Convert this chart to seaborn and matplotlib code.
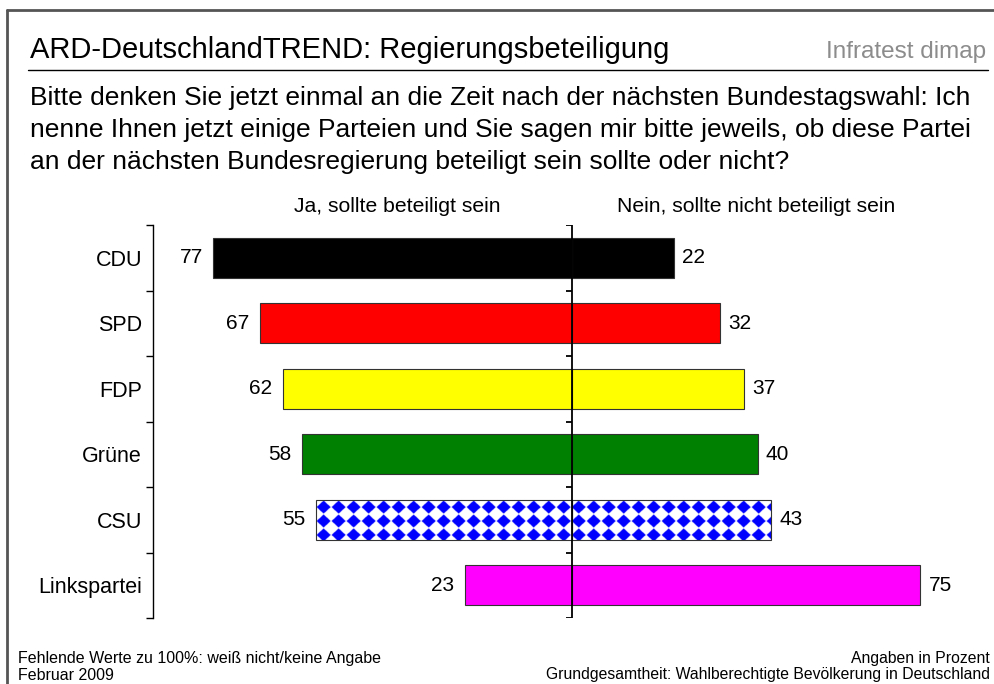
import numpy as np
import pandas as pd
import seaborn as sns
import matplotlib.pyplot as plt
from matplotlib.lines import Line2D

#  Daten 
parteien = ["CDU", "SPD", "FDP", "Grüne", "CSU", "Linkspartei"]
ja = [77, 67, 62, 58, 55, 23]
nein = [22, 32, 37, 40, 43, 75]
farben = ["#000000", "#FF0000", "#FFFF00", "#008000", "#FFFFFF", "#FF00FF"]

titel = "ARD-DeutschlandTREND: Regierungsbeteiligung"
frage = [
    "Bitte denken Sie jetzt einmal an die Zeit nach der nächsten Bundestagswahl: Ich",
    "nenne Ihnen jetzt einige Parteien und Sie sagen mir bitte jeweils, ob diese Partei",
    "an der nächsten Bundesregierung beteiligt sein sollte oder nicht?",
]
kopf_ja = "Ja, sollte beteiligt sein"
kopf_nein = "Nein, sollte nicht beteiligt sein"

sns.set_theme(style="white")
plt.rcParams["font.family"] = ["Liberation Sans", "DejaVu Sans"]
plt.rcParams["text.color"] = "black"
plt.rcParams["ytick.color"] = "black"
plt.rcParams["axes.labelcolor"] = "black"

df = pd.DataFrame({"partei": parteien, "ja": ja, "nein": nein})
df["ja_neg"] = -df["ja"]

W, H = 994, 684
def fx(x):
    return x / W
def fy(y):
    return 1 - y / H

fig = plt.figure(figsize=(W / 100, H / 100), dpi=100)
ax = fig.add_axes([fx(153), fy(618), 837 / W, 393 / H])

for spalte in ["ja_neg", "nein"]:
    sns.barplot(data=df, x=spalte, y="partei", hue="partei", palette=farben,
                orient="h", width=0.61, saturation=1, edgecolor="#333333",
                linewidth=0.8, legend=False, ax=ax)

# CSU: weiss-blaues Rautenmuster
csu = parteien.index("CSU")
csu_bars = [p for p in ax.patches if abs(p.get_y() + p.get_height() / 2 - csu) < 0.01]
x_min = min(min(p.get_x(), p.get_x() + p.get_width()) for p in csu_bars)
x_max = max(max(p.get_x(), p.get_x() + p.get_width()) for p in csu_bars)
y_top = csu_bars[0].get_y()
y_bot = y_top + csu_bars[0].get_height()
per_x, per_y = 15 / 4.65, 14 / 65.5
xs = np.linspace(x_min, x_max, 1800)
ys = np.linspace(y_top, y_bot, 160)
XX, YY = np.meshgrid(xs, ys)
u = ((XX - x_min) / per_x) % 1 - 0.5
v = ((YY - y_top) / per_y) % 1 - 0.5
maske = (np.abs(u) + np.abs(v)) < 0.47
bild = np.ones(maske.shape + (3,))
bild[maske] = [0, 0, 1]
for p in csu_bars:
    p.set_facecolor("none")
    im = ax.imshow(bild, extent=(x_min, x_max, y_bot, y_top), origin="upper",
                   aspect="auto", interpolation="bilinear", zorder=0.9)
    im.set_clip_path(p)

# Werte
for i in range(len(parteien)):
    ax.text(-ja[i] - 2.3, i, str(ja[i]), ha="right", va="center", fontsize=15)
    ax.text(nein[i] + 1.8, i, str(nein[i]), ha="left", va="center", fontsize=15)

# Mittellinie mit Strichen
grenzen = np.arange(len(parteien) + 1) - 0.5
ax.axvline(0, color="black", lw=1.3, zorder=5)
ax.hlines(grenzen, -1.1, 0, color="black", lw=1.3, zorder=5)

ax.set_xlim(-90, 90)
ax.set_ylim(len(parteien) - 0.5, -0.5)
ax.set_yticks(grenzen, labels=[""] * len(grenzen))
ax.set_yticks(range(len(parteien)), labels=parteien, minor=True)
ax.tick_params(axis="y", which="major", direction="out", length=5, width=1,
               color="black", left=True)
ax.tick_params(axis="y", which="minor", length=0, pad=8, labelsize=15.5)
ax.set_ylabel("")
ax.set_xlabel("")
ax.xaxis.set_visible(False)
for s in ["top", "right", "bottom"]:
    ax.spines[s].set_visible(False)
ax.spines["left"].set_color("black")
ax.spines["left"].set_linewidth(1)

xt = ax.get_xaxis_transform()
ax.text(-37.5, 1.046, kopf_ja, transform=xt, ha="center", va="center", fontsize=15.2)
ax.text(39.8, 1.046, kopf_nein, transform=xt, ha="center", va="center", fontsize=15.2)

#  Rahmen und Texte 
fig.add_artist(Line2D([fx(7), fx(7)], [0, fy(10)], color="#555555", lw=2))
fig.add_artist(Line2D([fx(7), 1], [fy(10), fy(10)], color="#555555", lw=2))
fig.add_artist(Line2D([fx(28), fx(988)], [fy(70), fy(70)], color="black", lw=1))

fig.text(fx(30), fy(50), titel, fontsize=21, va="center")
fig.text(fx(986), fy(52), "Infratest dimap", fontsize=17.5, va="center", ha="right",
         color="#8c8c8c", family=["Liberation Sans Narrow", "Liberation Sans", "DejaVu Sans"])
for k, zeile in enumerate(frage):
    fig.text(fx(30), fy(98 + 32 * k), zeile, fontsize=19, va="center")

fig.text(fx(18), fy(658), "Fehlende Werte zu 100%: weiß nicht/keine Angabe", fontsize=11.5, va="center")
fig.text(fx(18), fy(675), "Februar 2009", fontsize=11.5, va="center")
fig.text(fx(990), fy(658), "Angaben in Prozent", fontsize=11.3, va="center", ha="right")
fig.text(fx(990), fy(675), "Grundgesamtheit: Wahlberechtigte Bevölkerung in Deutschland",
         fontsize=11.3, va="center", ha="right")

plt.savefig("out.png", dpi=100)
plt.close()
